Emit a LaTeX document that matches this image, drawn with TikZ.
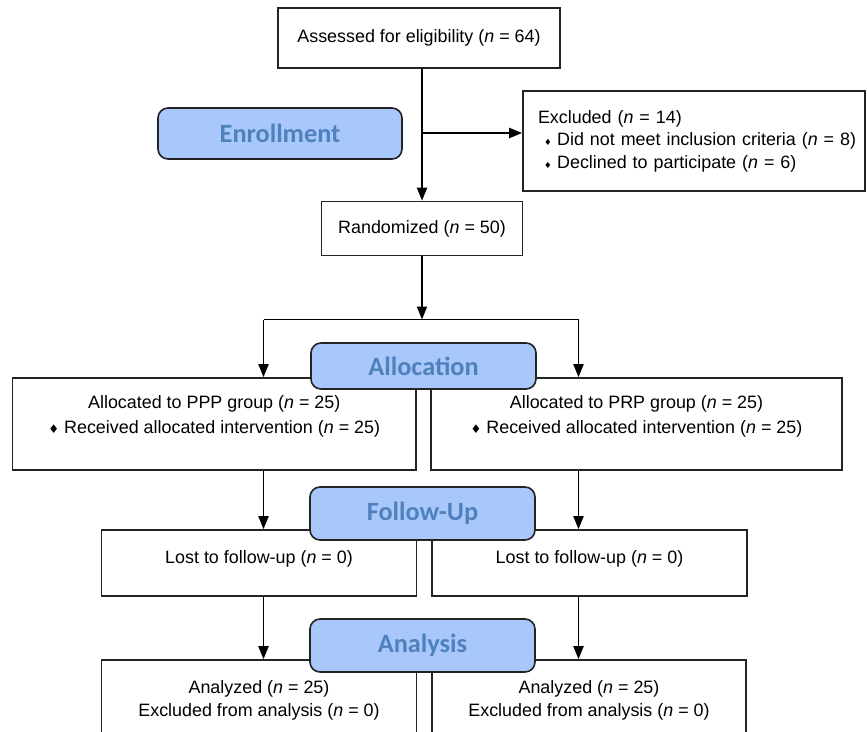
\documentclass[tikz,border=0pt]{standalone}
\usepackage{fontspec}
\setmainfont{Liberation Sans}
\newfontfamily\stagefont{Carlito}
\newfontfamily\symbfont{DejaVu Sans}
\usetikzlibrary{positioning,arrows.meta}
\definecolor{stagefill}{RGB}{168,199,250}
\definecolor{stagetext}{RGB}{79,129,189}
\definecolor{edge}{RGB}{35,35,35}
\newcommand{\nn}{\textit{n}}
\newcommand{\bigdmd}{{\symbfont\fontsize{12}{12}\selectfont ♦}}
\newcommand{\smalldmd}{{\symbfont\fontsize{8.5}{8.5}\selectfont ♦}}

\begin{document}
\begin{tikzpicture}[x=1pt,y=-1pt,
  box/.style={draw=edge,line width=1.6pt,rectangle,inner sep=0pt,align=center,font=\fontsize{17.9}{21}\selectfont},
  stage/.style={draw=edge,line width=1.6pt,rounded corners=10pt,fill=stagefill,text=stagetext,inner sep=0pt,font=\stagefont\bfseries\fontsize{26.3}{30}\selectfont},
  flow/.style={line width=1.9pt,-{Triangle[length=13pt,width=10pt]}},
  lift/.style={text depth=#1}]
    \useasboundingbox (0,0) rectangle (867,731);

    % boxes
    \node[box,minimum width=282pt,minimum height=60pt] (assess) at (419,38) {Assessed for eligibility (\nn{} = 64)};
    \node[box,minimum width=342pt,minimum height=100pt,align=left,text width=342pt,inner xsep=0pt] (excl) at (694,141) {\hspace*{15pt}Excluded (\nn{} = 14)\\[1.5pt] \hspace*{21pt}\smalldmd\hspace{5.5pt}Did not meet inclusion criteria (\nn{} = 8)\\[1.5pt] \hspace*{21pt}\smalldmd\hspace{5.5pt}Declined to participate (\nn{} = 6)};
    \node[box,minimum width=201pt,minimum height=54pt] (rand) at (422,228.5) {Randomized (\nn{} = 50)};
    \node[box,minimum width=403.5pt,minimum height=92pt,lift=18.8pt] (allocL) at (214.25,424) {Allocated to PPP group (\nn{} = 25)\\[4pt] \bigdmd{} Received allocated intervention (\nn{} = 25)};
    \node[box,minimum width=411pt,minimum height=92pt,lift=18.8pt] (allocR) at (636.5,424) {Allocated to PRP group (\nn{} = 25)\\[4pt] \bigdmd{} Received allocated intervention (\nn{} = 25)};
    \node[box,minimum width=315pt,minimum height=66pt,lift=12pt] (lostL) at (259,563) {Lost to follow-up (\nn{} = 0)};
    \node[box,minimum width=315pt,minimum height=66pt,lift=12pt] (lostR) at (589.5,563) {Lost to follow-up (\nn{} = 0)};
    \node[box,minimum width=315pt,minimum height=92pt,lift=15pt] (analL) at (259,706) {Analyzed (\nn{} = 25)\\[1.5pt] Excluded from analysis (\nn{} = 0)};
    \node[box,minimum width=314pt,minimum height=92pt,lift=15pt] (analR) at (589,706) {Analyzed (\nn{} = 25)\\[1.5pt] Excluded from analysis (\nn{} = 0)};

    % stage labels
    \node[stage,minimum width=244pt,minimum height=51pt] (enroll) at (280,133.5) {Enrollment};
    \node[stage,minimum width=225pt,minimum height=46pt] (allocation) at (423.5,366) {Allocation};
    \node[stage,minimum width=225pt,minimum height=53pt] (followup) at (422.5,513.5) {Follow-Up};
    \node[stage,minimum width=225pt,minimum height=53pt] (analysis) at (422.5,645.5) {Analysis};

    \coordinate (ex) at (422,133);
    \coordinate (split) at (422,319.5);
    \coordinate (splitL) at (263.5,319.5);
    \coordinate (splitR) at (578.5,319.5);

    \draw[flow] (rand.north |- assess.south) -- (rand.north);
    \draw[flow] (ex) -- (ex -| excl.west);
    \draw[flow] (rand.south) -- (split);
    \draw[line width=1.9pt] (splitL) -- (splitR);
    \draw[flow] (splitL) -- (splitL |- allocL.north);
    \draw[flow] (splitR) -- (splitR |- allocR.north);
    \draw[flow] (splitL |- allocL.south) -- (splitL |- lostL.north);
    \draw[flow] (splitR |- allocR.south) -- (splitR |- lostR.north);
    \draw[flow] (splitL |- lostL.south) -- (splitL |- analL.north);
    \draw[flow] (splitR |- lostR.south) -- (splitR |- analR.north);
  \end{tikzpicture}
\end{document}
